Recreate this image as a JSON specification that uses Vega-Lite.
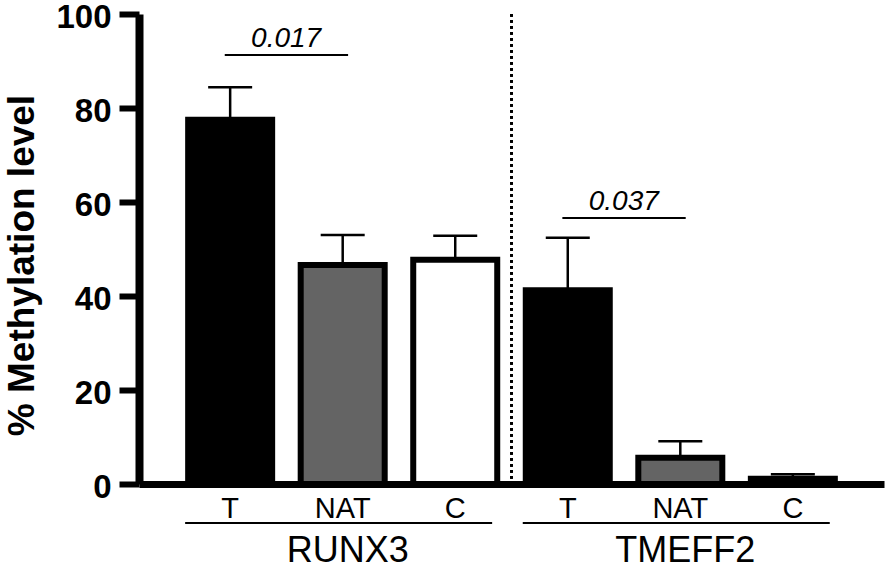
{
  "$schema": "https://vega.github.io/schema/vega-lite/v6.json",
  "width": 745,
  "height": 470,
  "autosize": {"type": "none"},
  "padding": {"left": 139, "top": 14, "right": 2, "bottom": 86},
  "background": "white",
  "config": {
    "view": {"stroke": null},
    "font": "Liberation Sans"
  },
  "datasets": {
    "bars": [
      {"gene": "RUNX3", "group": "T", "key": "RUNX3|T", "mean": 77.5, "upper": 84.4},
      {"gene": "RUNX3", "group": "NAT", "key": "RUNX3|NAT", "mean": 46.6, "upper": 53.0},
      {"gene": "RUNX3", "group": "C", "key": "RUNX3|C", "mean": 47.7, "upper": 52.8},
      {"gene": "TMEFF2", "group": "T", "key": "TMEFF2|T", "mean": 41.2, "upper": 52.4},
      {"gene": "TMEFF2", "group": "NAT", "key": "TMEFF2|NAT", "mean": 5.6, "upper": 9.1},
      {"gene": "TMEFF2", "group": "C", "key": "TMEFF2|C", "mean": 1.1, "upper": 2.1}
    ],
    "sig": [
      {"from": "RUNX3|T", "to": "RUNX3|NAT", "bracket": 91.3, "p": "0.017"},
      {"from": "TMEFF2|T", "to": "TMEFF2|NAT", "bracket": 56.6, "p": "0.037"}
    ],
    "genes": [
      {"gene": "RUNX3", "first": "RUNX3|T", "mid": "RUNX3|NAT", "last": "RUNX3|C"},
      {"gene": "TMEFF2", "first": "TMEFF2|T", "mid": "TMEFF2|NAT", "last": "TMEFF2|C"}
    ]
  },
  "encoding": {
    "x": {
      "field": "key",
      "type": "nominal",
      "scale": {
        "type": "band",
        "domain": ["RUNX3|T", "RUNX3|NAT", "RUNX3|C", "TMEFF2|T", "TMEFF2|NAT", "TMEFF2|C"],
        "paddingInner": 0.2,
        "paddingOuter": 0.41
      },
      "axis": {
        "title": null,
        "zindex": 1,
        "domain": true,
        "domainColor": "black",
        "domainWidth": 7,
        "ticks": false,
        "tickSize": 0,
        "labelAngle": 0,
        "labelExpr": "split(datum.value, '|')[1]",
        "labelFont": "Liberation Sans",
        "labelFontSize": 29,
        "labelColor": "black",
        "labelPadding": 10,
        "grid": false
      }
    }
  },
  "layer": [
    {
      "data": {"name": "bars"},
      "mark": {"type": "rule", "color": "black", "strokeWidth": 2.5, "strokeDash": [2.5, 3.5]},
      "encoding": {
        "x": {"datum": "TMEFF2|T", "bandPosition": -0.125},
        "y": {"datum": 100, "type": "quantitative"},
        "y2": {"datum": 0}
      }
    },
    {
      "data": {"name": "bars"},
      "mark": {"type": "rule", "color": "black", "strokeWidth": 2.5},
      "encoding": {
        "x": {"field": "key", "type": "nominal"},
        "y": {"field": "mean", "type": "quantitative"},
        "y2": {"field": "upper"}
      }
    },
    {
      "data": {"name": "bars"},
      "mark": {"type": "tick", "color": "black", "size": 44, "thickness": 2.5, "opacity": 1},
      "encoding": {
        "x": {"field": "key", "type": "nominal"},
        "y": {"field": "upper", "type": "quantitative"}
      }
    },
    {
      "data": {"name": "bars"},
      "mark": {"type": "bar", "size": 84, "stroke": "black", "strokeWidth": 6},
      "encoding": {
        "x": {"field": "key", "type": "nominal"},
        "y": {
          "field": "mean",
          "type": "quantitative",
          "scale": {"domain": [0, 100], "nice": false, "zero": true},
          "axis": {
            "title": "% Methylation level",
            "titleFont": "Liberation Sans",
            "titleFontSize": 37,
            "titleFontWeight": "bold",
            "titleColor": "black",
            "titleAngle": -90,
            "titleAlign": "center",
            "titleBaseline": "alphabetic",
            "titleX": -106,
            "titleY": 251,
            "zindex": 1,
            "values": [0, 20, 40, 60, 80, 100],
            "grid": false,
            "domainColor": "black",
            "domainWidth": 8,
            "tickColor": "black",
            "tickWidth": 6,
            "tickSize": 20,
            "labelFont": "Liberation Sans",
            "labelFontSize": 33,
            "labelFontWeight": "bold",
            "labelColor": "black",
            "labelPadding": 8,
            "labelOffset": 3
          }
        },
        "fill": {
          "field": "group",
          "type": "nominal",
          "scale": {"domain": ["T", "NAT", "C"], "range": ["black", "#646464", "white"]},
          "legend": null
        }
      }
    },
    {
      "data": {"name": "sig"},
      "mark": {"type": "rule", "color": "black", "strokeWidth": 2},
      "encoding": {
        "x": {"field": "from", "type": "nominal", "bandPosition": 0.44},
        "x2": {"field": "to", "bandPosition": 0.56},
        "y": {"field": "bracket", "type": "quantitative"}
      }
    },
    {
      "data": {"name": "sig"},
      "mark": {"type": "text", "font": "Liberation Sans", "fontSize": 28, "fontStyle": "italic", "color": "black", "baseline": "alphabetic", "align": "center", "dx": 56, "dy": -8},
      "encoding": {
        "x": {"field": "from", "type": "nominal"},
        "y": {"field": "bracket", "type": "quantitative"},
        "text": {"field": "p"}
      }
    },
    {
      "data": {"name": "genes"},
      "mark": {"type": "rule", "color": "black", "strokeWidth": 2},
      "encoding": {
        "x": {"field": "first", "type": "nominal", "bandPosition": 0.0},
        "x2": {"field": "last", "bandPosition": 0.91},
        "y": {"datum": -8.3, "type": "quantitative"}
      }
    },
    {
      "data": {"name": "genes"},
      "mark": {"type": "text", "font": "Liberation Sans", "fontSize": 36, "color": "black", "baseline": "alphabetic", "align": "center", "dx": 5},
      "encoding": {
        "x": {"field": "mid", "type": "nominal"},
        "y": {"datum": -16.6, "type": "quantitative"},
        "text": {"field": "gene"}
      }
    }
  ]
}
